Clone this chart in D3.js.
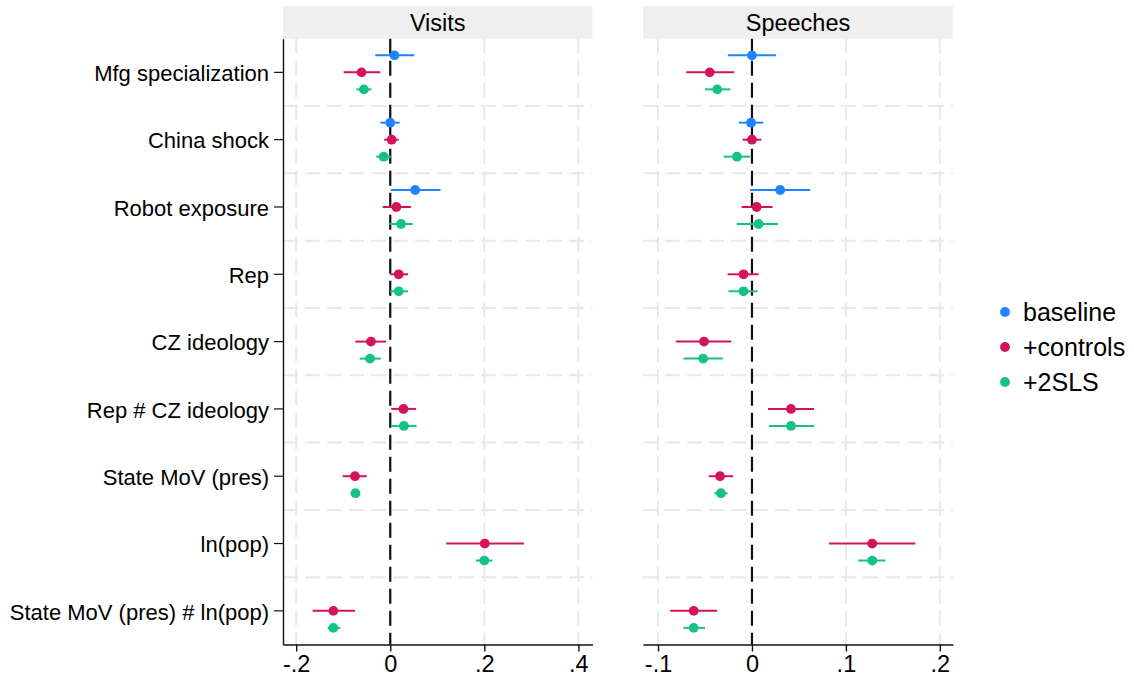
<!DOCTYPE html>
<html>
<head>
<meta charset="utf-8">
<script src="https://cdn.jsdelivr.net/npm/d3@7"></script>
<style>
  body { margin: 0; background: #fff; }
  svg { font-family: Helvetica, "Liberation Sans", Arial, sans-serif; }
</style>
</head>
<body>
<svg id="chart" width="1134" height="681"></svg>
<script>

var categories = ["Mfg specialization", "China shock", "Robot exposure", "Rep", "CZ ideology",
  "Rep # CZ ideology", "State MoV (pres)", "ln(pop)", "State MoV (pres) # ln(pop)"];
var seriesNames = ["baseline", "+controls", "+2SLS"];
var colors = ["#1f85ff", "#d3135a", "#14c285"];

// [estimate, lower, upper] per category, null where the term is not in the model
var visitsBaseline = [[0.009, -0.032, 0.051], [0.0, -0.021, 0.020], [0.053, 0.001, 0.107],
  null, null, null, null, null, null];
var visitsControls = [[-0.061, -0.099, -0.021], [0.003, -0.013, 0.018], [0.013, -0.016, 0.044],
  [0.018, 0.0, 0.038], [-0.041, -0.074, -0.009], [0.028, 0.002, 0.055],
  [-0.075, -0.101, -0.050], [0.201, 0.119, 0.284], [-0.121, -0.165, -0.075]];
var visits2sls = [[-0.056, -0.072, -0.040], [-0.014, -0.030, 0.002], [0.023, -0.002, 0.048],
  [0.018, 0.0, 0.038], [-0.043, -0.065, -0.020], [0.029, 0.002, 0.056],
  [-0.074, -0.078, -0.070], [0.200, 0.182, 0.217], [-0.121, -0.133, -0.106]];

var speechesBaseline = [[0.0, -0.0255, 0.0255], [-0.001, -0.014, 0.012], [0.030, -0.002, 0.062],
  null, null, null, null, null, null];
var speechesControls = [[-0.045, -0.070, -0.019], [0.0, -0.010, 0.010], [0.005, -0.011, 0.022],
  [-0.009, -0.026, 0.007], [-0.051, -0.081, -0.022], [0.0415, 0.017, 0.066],
  [-0.034, -0.046, -0.020], [0.128, 0.082, 0.174], [-0.062, -0.087, -0.037]];
var speeches2sls = [[-0.037, -0.050, -0.023], [-0.016, -0.030, -0.002], [0.007, -0.016, 0.028],
  [-0.009, -0.025, 0.006], [-0.052, -0.073, -0.031], [0.0415, 0.018, 0.066],
  [-0.033, -0.040, -0.026], [0.128, 0.113, 0.142], [-0.062, -0.073, -0.050]];

var visitsTicks = [-0.2, 0, 0.2, 0.4];
var speechesTicks = [-0.1, 0, 0.1, 0.2];

var svg = d3.select("#chart");
var fontStack = "Helvetica, 'Liberation Sans', Arial, sans-serif";

var plotTop = 38.7, plotBottom = 644.5;
var y = d3.scaleBand().domain(categories).range([plotTop, plotBottom]).padding(0);
var offset = d3.scalePoint().domain(seriesNames).range([-17, 17]);

function fmt(d) {
  if (d === 0) return "0";
  return d3.format(".1f")(d).replace("\u2212", "-").replace("0.", ".");
}

function drawPanel(left, right, domain, ticks, title, data, showY) {
  var x = d3.scaleLinear().domain(domain).range([left, right]);
  var g = svg.append("g");

  // header strip
  g.append("rect")
    .attr("x", left).attr("y", 6)
    .attr("width", right - left).attr("height", plotTop - 6)
    .attr("fill", "#efefef");
  g.append("text")
    .attr("x", (left + right) / 2).attr("y", 31)
    .attr("text-anchor", "middle")
    .style("font-size", "23.5px")
    .text(title);

  // grid
  g.selectAll(".vgrid").data(ticks).enter().append("line")
    .attr("x1", function(d) { return x(d); })
    .attr("x2", function(d) { return x(d); })
    .attr("y1", plotTop).attr("y2", plotBottom)
    .attr("stroke", "#e8e8e8").attr("stroke-width", 2)
    .attr("stroke-dasharray", "15,7");
  g.selectAll(".hgrid").data(categories.slice(1)).enter().append("line")
    .attr("x1", left).attr("x2", right)
    .attr("y1", function(d) { return y(d); })
    .attr("y2", function(d) { return y(d); })
    .attr("stroke", "#e8e8e8").attr("stroke-width", 2)
    .attr("stroke-dasharray", "15,7");

  // zero reference line
  g.append("line")
    .attr("x1", x(0)).attr("x2", x(0))
    .attr("y1", plotTop).attr("y2", plotBottom)
    .attr("stroke", "#111").attr("stroke-width", 2.2)
    .attr("stroke-dasharray", "15,7");

  // estimates with CIs
  data.forEach(function(series, si) {
    var rows = [];
    series.forEach(function(v, ci) {
      if (v) rows.push({ cat: categories[ci], est: v[0], lo: v[1], hi: v[2] });
    });
    var cy = function(d) { return y(d.cat) + y.bandwidth() / 2 + offset(seriesNames[si]); };
    g.selectAll(".ci" + si).data(rows).enter().append("line")
      .attr("x1", function(d) { return x(d.lo); })
      .attr("x2", function(d) { return x(d.hi); })
      .attr("y1", cy).attr("y2", cy)
      .attr("stroke", colors[si]).attr("stroke-width", 2);
    g.selectAll(".pt" + si).data(rows).enter().append("circle")
      .attr("cx", function(d) { return x(d.est); })
      .attr("cy", cy)
      .attr("r", 4.9)
      .attr("fill", colors[si]);
  });

  // x axis
  var xAxis = g.append("g")
    .attr("transform", "translate(0," + plotBottom + ")")
    .call(d3.axisBottom(x).tickValues(ticks).tickFormat(fmt).tickSize(7).tickSizeOuter(0).tickPadding(4));
  xAxis.select(".domain").attr("stroke", "#111").attr("stroke-width", 1.4);
  xAxis.selectAll(".tick line").attr("stroke", "#111").attr("stroke-width", 1.4);
  xAxis.selectAll("text").style("font-size", "23.5px").attr("fill", "#000")
    .style("font-family", fontStack);

  if (showY) {
    var yAxis = g.append("g")
      .attr("transform", "translate(" + left + ",0)")
      .call(d3.axisLeft(y).tickSize(9).tickSizeOuter(0).tickPadding(5));
    yAxis.select(".domain").attr("stroke", "#111").attr("stroke-width", 1.4);
    yAxis.selectAll(".tick line").attr("stroke", "#111").attr("stroke-width", 1.2);
    yAxis.selectAll("text").style("font-size", "22px").attr("fill", "#000")
      .attr("dy", "0.4em")
      .style("font-family", fontStack);
  }
}

drawPanel(283, 592.5, [-0.228, 0.43], visitsTicks, "Visits",
  [visitsBaseline, visitsControls, visits2sls], true);
drawPanel(643, 953, [-0.116, 0.214], speechesTicks, "Speeches",
  [speechesBaseline, speechesControls, speeches2sls], false);

// legend
var legend = svg.append("g").attr("transform", "translate(1005,312)");
var items = legend.selectAll("g").data(seriesNames).enter().append("g")
  .attr("transform", function(d, i) { return "translate(0," + i * 35 + ")"; });
items.append("circle").attr("r", 4.9).attr("fill", function(d, i) { return colors[i]; });
items.append("text")
  .attr("x", 18).attr("dy", "0.36em")
  .style("font-size", "25px")
  .text(function(d) { return d; });

</script>
</body>
</html>
